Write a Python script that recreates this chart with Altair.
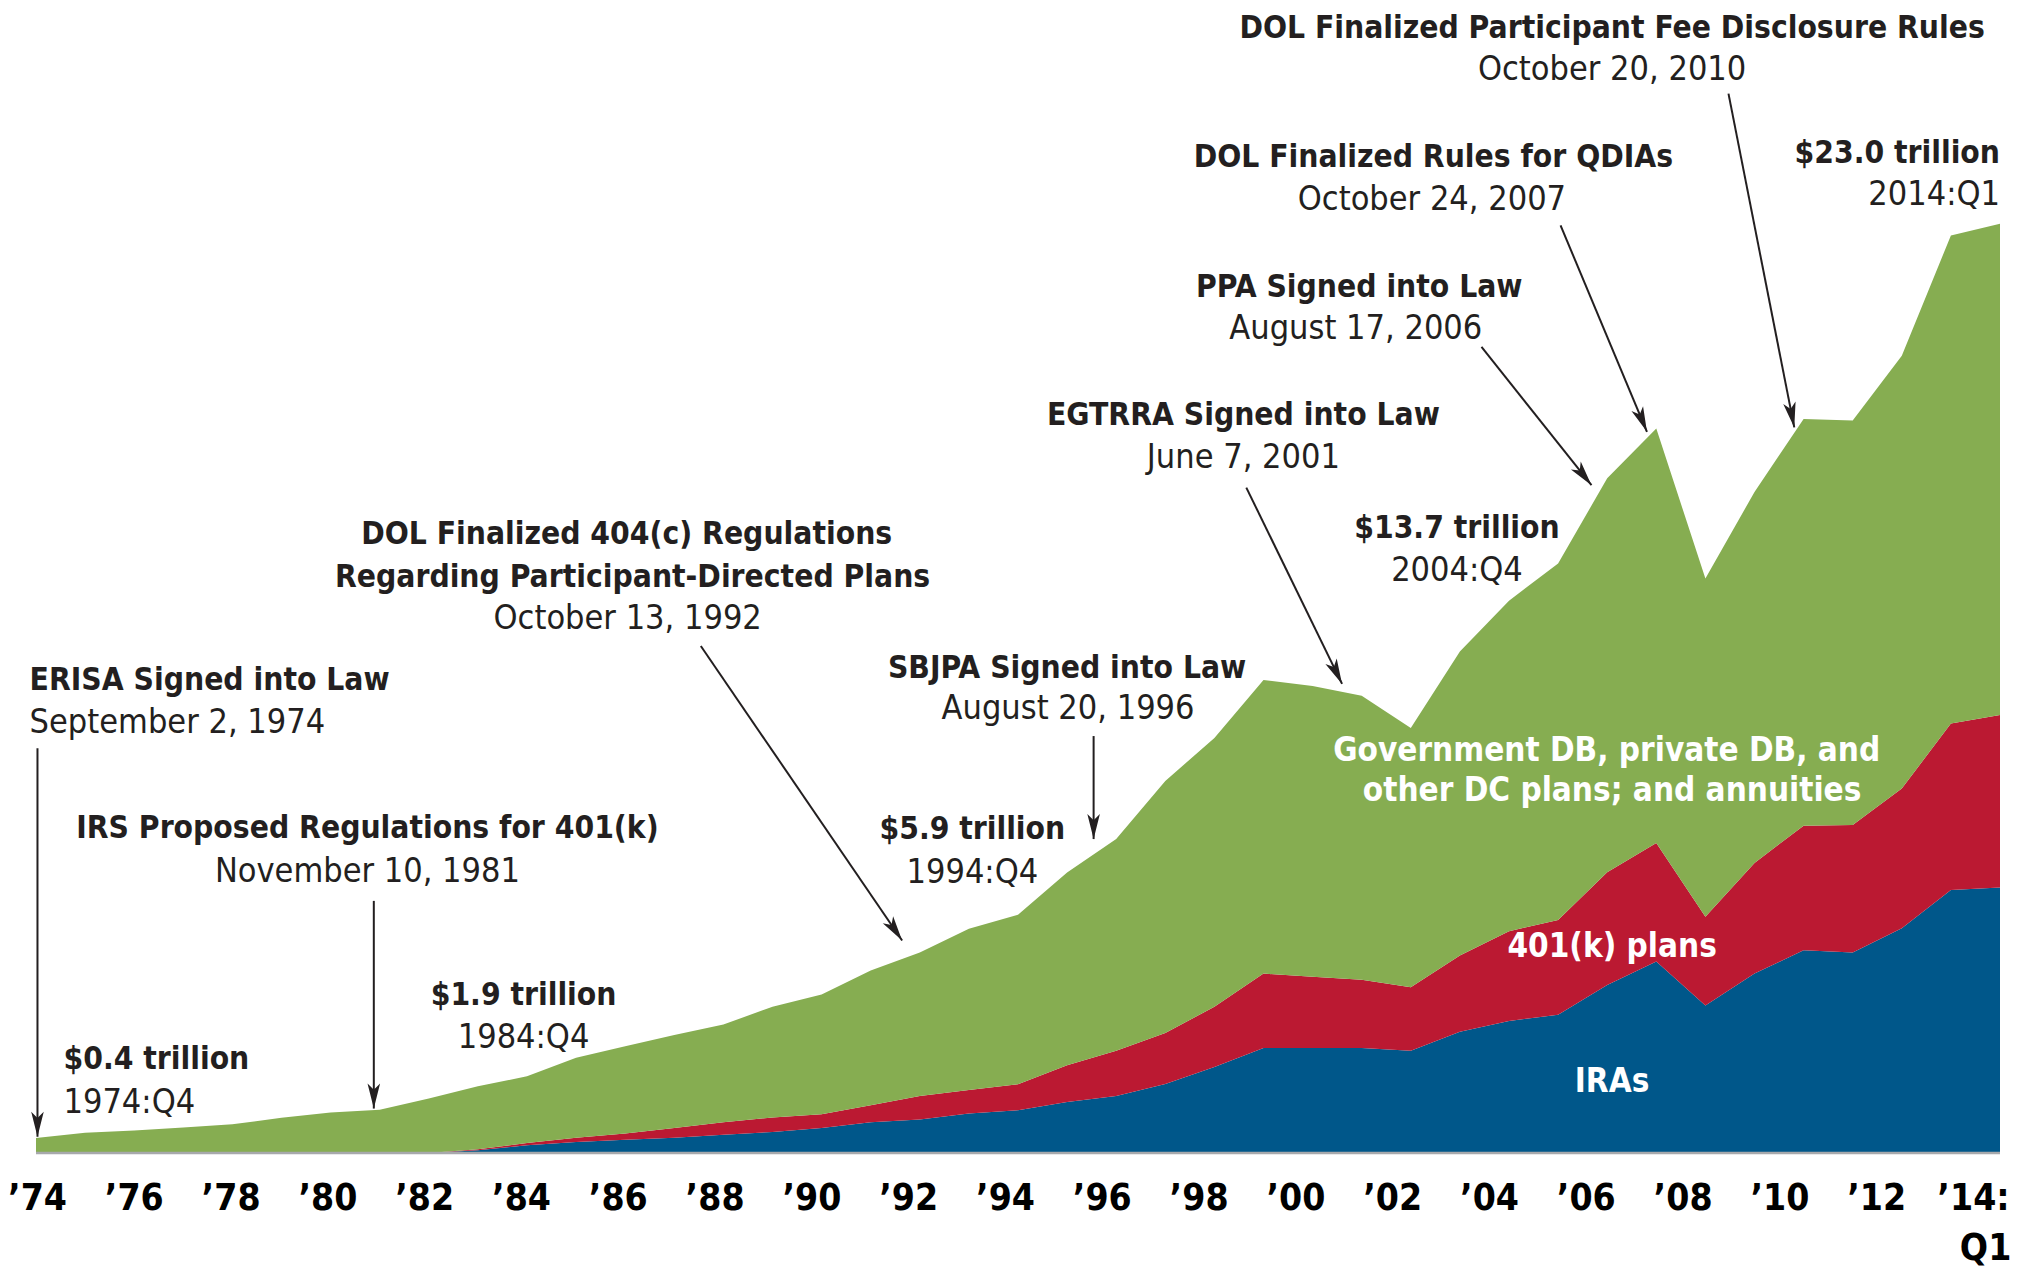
import math
import altair as alt
import pandas as pd

# ---------------- data (trillions of dollars) ----------------
periods = [str(y) for y in range(1974, 2014)] + ["2014:Q1"]

iras = [0, 0, 0, 0, 0, 0, 0, 0,
        0, 0.07, 0.19, 0.27, 0.33, 0.38, 0.45, 0.52, 0.62, 0.76, 0.83, 0.98,
        1.06, 1.26, 1.41, 1.71, 2.13, 2.60, 2.60, 2.60, 2.53, 3.00, 3.27, 3.42,
        4.16, 4.74, 3.65, 4.44, 5.02, 4.96, 5.56, 6.51, 6.57]

k401 = [0, 0, 0, 0, 0, 0, 0, 0,
        0, 0.02, 0.06, 0.11, 0.15, 0.24, 0.31, 0.36, 0.34, 0.42, 0.58, 0.58,
        0.64, 0.91, 1.12, 1.26, 1.49, 1.84, 1.76, 1.69, 1.57, 1.89, 2.22, 2.35,
        2.79, 2.93, 2.20, 2.74, 3.08, 3.16, 3.46, 4.12, 4.27]

other = [0.37, 0.50, 0.56, 0.63, 0.71, 0.87, 1.00, 1.07,
         1.35, 1.56, 1.65, 1.98, 2.16, 2.30, 2.42, 2.74, 2.96, 3.34, 3.55, 3.99,
         4.20, 4.77, 5.24, 6.24, 6.65, 7.27, 7.20, 7.03, 6.42, 7.52, 8.18, 8.82,
         9.75, 10.26, 8.37, 9.18, 10.07, 10.01, 10.71, 12.08, 12.16]

series_names = ["IRAs", "401(k) plans",
                "Government DB, private DB, and other DC plans; and annuities"]
series_colors = ["#00578A", "#BB1932", "#86AD51"]

tick_years = list(range(1974, 2013, 2)) + [2014, 2014.25]
tick_labels = ["\u2019" + str(y)[2:] for y in range(1974, 2013, 2)] + ["\u201914:", "Q1"]
tick_rows = [0] * 20 + [0, 1]

# annotations: (text, period-index position, value position)
bold_center = [
    ("IRS Proposed Regulations for 401(k)", 6.75, 8.02),
    ("$1.9 trillion", 9.93, 3.89),
    ("DOL Finalized 404(c) Regulations", 12.03, 15.30),
    ("Regarding Participant-Directed Plans", 12.15, 14.23),
    ("$5.9 trillion", 19.07, 8.00),
    ("SBJPA Signed into Law", 21.0, 11.98),
    ("EGTRRA Signed into Law", 24.59, 18.24),
    ("$13.7 trillion", 28.94, 15.44),
    ("PPA Signed into Law", 26.95, 21.42),
    ("DOL Finalized Rules for QDIAs", 28.46, 24.63),
    ("DOL Finalized Participant Fee Disclosure Rules", 32.1, 27.83),
]
bold_left = [
    ("ERISA Signed into Law", -0.13, 11.68),
    ("$0.4 trillion", 0.56, 2.29),
]
bold_right = [("$23.0 trillion", 40.0, 24.73)]
reg_center = [
    ("November 10, 1981", 6.75, 6.96),
    ("1984:Q4", 9.93, 2.85),
    ("October 13, 1992", 12.05, 13.22),
    ("1994:Q4", 19.07, 6.93),
    ("August 20, 1996", 21.02, 10.99),
    ("June 7, 2001", 24.59, 17.20),
    ("2004:Q4", 28.94, 14.40),
    ("August 17, 2006", 26.88, 20.39),
    ("October 24, 2007", 28.43, 23.59),
    ("October 20, 2010", 32.1, 26.80),
]
reg_left = [
    ("September 2, 1974", -0.13, 10.64),
    ("1974:Q4", 0.56, 1.24),
]
reg_right = [("2014:Q1", 40.0, 23.72)]
white_center = [
    ("Government DB, private DB, and", 31.99, 9.94),
    ("other DC plans; and annuities", 32.1, 8.95),
    ("401(k) plans", 32.1, 5.09),
    ("IRAs", 32.1, 1.76),
]
arrows = [  # (t1, v1) -> (t2, v2) tip
    (0.03, 10.02, 0.03, 0.40),
    (6.88, 6.24, 6.88, 1.10),
    (13.54, 12.55, 17.64, 5.26),
    (21.54, 10.32, 21.54, 7.77),
    (24.65, 16.47, 26.60, 11.61),
    (29.44, 19.95, 31.68, 16.53),
    (31.05, 22.96, 32.81, 17.85),
    (34.47, 26.22, 35.81, 17.96),
]

# ---------------- layout / style ----------------
W, H = 1964, 1145
XMAX, YMAX = 40, 28.34
PX_X, PX_Y = W / XMAX, H / YMAX
FONT = "'DejaVu Sans Condensed', 'DejaVu Sans', sans-serif"
INK = "#231F20"
XS = alt.Scale(domain=[0, XMAX], nice=False, zero=False)
YS = alt.Scale(domain=[0, YMAX], nice=False, zero=False)
LABEL_STEP = 48.4 / 49.1
LABEL_OFF = 0.03
ROW_V = [-1.14, -2.38]

rows = []
for i, p in enumerate(periods):
    for r, (name, vals) in enumerate(zip(series_names, [iras, k401, other])):
        rows.append({"t": i, "period": p, "series": name, "value": vals[i], "rank": r})
df = pd.DataFrame(rows)

areas = alt.Chart(df).mark_area(interpolate="linear", opacity=1, strokeWidth=0).encode(
    x=alt.X("t:Q", scale=XS, axis=None),
    y=alt.Y("value:Q", stack="zero", scale=YS, axis=None),
    color=alt.Color("series:N", scale=alt.Scale(domain=series_names, range=series_colors), legend=None),
    order=alt.Order("rank:Q", sort="ascending"),
)

base_df = pd.DataFrame([{"t": 0, "t2": len(periods) - 1, "v": 0}])
baseline = alt.Chart(base_df).mark_rule(color="#A7A9AC", strokeWidth=2.5).encode(
    x=alt.X("t:Q", scale=XS, axis=None), x2="t2:Q",
    y=alt.Y("v:Q", scale=YS, axis=None),
)

tick_df = pd.DataFrame({"yr": tick_years, "label": tick_labels, "row": tick_rows})
tick_df["v"] = [ROW_V[r] for r in tick_rows]
ticks = alt.Chart(tick_df).transform_calculate(
    t=f"(datum.yr - 1974) * {LABEL_STEP} + {LABEL_OFF}"
).mark_text(font=FONT, fontWeight="bold", fontSize=37, color="#000000",
            align="center", baseline="middle").encode(
    x=alt.X("t:Q", scale=XS, axis=None),
    y=alt.Y("v:Q", scale=YS, axis=None),
    text="label:N",
)


def text_layer(items, align, weight, color, size):
    d = pd.DataFrame(items, columns=["label", "t", "v"])
    return alt.Chart(d).mark_text(font=FONT, fontWeight=weight, fontSize=size, color=color,
                                  align=align, baseline="middle").encode(
        x=alt.X("t:Q", scale=XS, axis=None),
        y=alt.Y("v:Q", scale=YS, axis=None),
        text="label:N",
    )


texts = [
    text_layer(bold_center, "center", "bold", INK, 31.5),
    text_layer(bold_left, "left", "bold", INK, 31.5),
    text_layer(bold_right, "right", "bold", INK, 31.5),
    text_layer(reg_center, "center", "normal", INK, 34),
    text_layer(reg_left, "left", "normal", INK, 34),
    text_layer(reg_right, "right", "normal", INK, 34),
    text_layer(white_center, "center", "bold", "#FFFFFF", 33),
]

arr_rows = []
for t1, v1, t2, v2 in arrows:
    dx = (t2 - t1) * PX_X
    dy = -(v2 - v1) * PX_Y
    ang = math.degrees(math.atan2(dx, -dy)) % 360
    arr_rows.append({"t1": t1, "v1": v1, "t2": t2, "v2": v2, "ang": ang})
arr_df = pd.DataFrame(arr_rows)

arrow_lines = alt.Chart(arr_df).mark_rule(color=INK, strokeWidth=2).encode(
    x=alt.X("t1:Q", scale=XS, axis=None), y=alt.Y("v1:Q", scale=YS, axis=None),
    x2="t2:Q", y2="v2:Q",
)
ARROW_SHAPE = "M0,0L0.45,1.8L0,1.35L-0.45,1.8Z"
arrow_heads = alt.Chart(arr_df).mark_point(shape=ARROW_SHAPE, filled=True, size=780,
                                           color=INK, opacity=1, strokeWidth=0).encode(
    x=alt.X("t2:Q", scale=XS, axis=None), y=alt.Y("v2:Q", scale=YS, axis=None),
    angle=alt.Angle("ang:Q", scale=None),
)

chart = alt.layer(areas, baseline, ticks, arrow_lines, arrow_heads, *texts).properties(
    width=W, height=H,
    autosize=alt.AutoSizeParams(type="none"),
    padding={"left": 28, "top": 0, "right": 15, "bottom": 118},
    background="#FFFFFF",
).configure_view(stroke=None)

chart.save("out.html", embed_options={"renderer": "svg", "actions": False})
